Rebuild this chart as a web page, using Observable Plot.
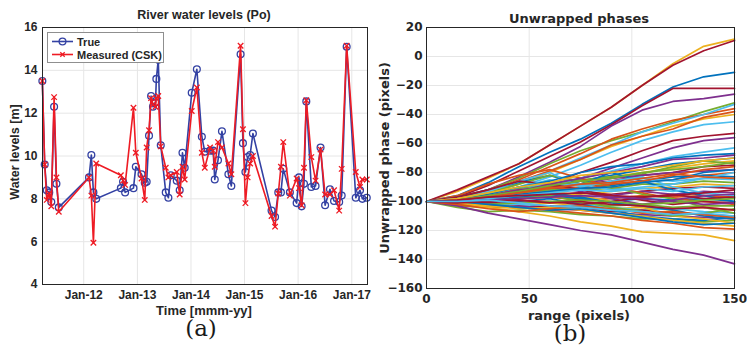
<!DOCTYPE html>
<html>
<head>
<meta charset="utf-8">
<script src="https://cdn.jsdelivr.net/npm/d3@7"></script>
<script src="https://cdn.jsdelivr.net/npm/@observablehq/plot@0.6"></script>
<style>
  body { margin: 0; background: #fff; }
  #wrap { position: relative; width: 747px; height: 347px; overflow: hidden; background: #fff; }
  .panel { position: absolute; top: 0; overflow: visible; }
  .txt { position: absolute; white-space: nowrap; color: #262626; font-weight: bold; transform: translate(-50%, -50%); }
  .lab { position: absolute; white-space: nowrap; color: #1a1a1a; font-family: "DejaVu Serif", serif; font-size: 23px; transform: translate(-50%, -50%); }
</style>
</head>
<body>
<div id="wrap"></div>
<script>
// ---- Panel (a): Po river water levels ----
const levelDates = [
  "2011-03-25","2011-04-10","2011-04-24","2011-05-11","2011-05-25","2011-06-13","2011-06-29","2011-07-15",
  "2012-02-06","2012-02-22","2012-03-07","2012-03-26","2012-09-10","2012-09-25","2012-10-09","2012-12-05",
  "2012-12-21","2013-01-29","2013-02-20","2013-03-05","2013-03-21","2013-04-04","2013-04-17","2013-05-04",
  "2013-05-10","2013-05-23","2013-06-09","2013-07-13","2013-07-31","2013-08-16","2013-09-26","2013-10-16",
  "2013-11-04","2013-11-19","2014-01-06","2014-02-10","2014-03-16","2014-04-05","2014-05-11","2014-06-01",
  "2014-06-12","2014-07-04","2014-07-31","2014-09-13","2014-10-03","2014-12-05","2014-12-21","2015-01-07",
  "2015-01-22","2015-02-08","2015-02-27","2015-07-04","2015-07-28","2015-08-19","2015-09-06","2015-09-22",
  "2015-11-06","2015-12-22","2016-01-07","2016-01-25","2016-02-10","2016-02-26","2016-03-31","2016-04-29",
  "2016-06-02","2016-07-03","2016-08-05","2016-09-02","2016-10-07","2016-10-24","2016-11-27","2017-01-28",
  "2017-02-26","2017-03-14","2017-04-13"
];
const trueLevel = [
  13.5, 9.6, 8.4, 8.3, 7.85, 12.3, 8.7, 7.6,
  9.0, 10.05, 8.3, 8.0, 8.5, 8.8, 8.3, 8.5,
  9.5, 9.15, 8.75, 8.8, 10.95, 12.8, 12.3, 12.5,
  13.6, 14.5, 10.5, 8.3, 8.05, 9.1, 8.85, 8.4,
  10.15, 9.45, 12.95, 14.05, 10.9, 10.2, 10.25, 10.25,
  8.9, 9.8, 11.15, 9.15, 8.6, 14.75, 10.6, 9.25,
  9.95, 10.05, 11.05, 7.45, 7.15, 8.3, 8.3, 9.4,
  8.3, 7.8, 9.0, 7.65, 8.7, 12.55, 8.55, 8.6,
  10.4, 7.7, 8.45, 7.9, 7.85, 8.15, 15.1, 8.05,
  8.4, 8.0, 8.05
];
const measuredLevel = [
  13.5, 9.6, 7.95, 8.25, 7.65, 12.75, 9.0, 7.4,
  9.0, 8.15, 5.95, 9.65, 9.1, 8.85, 8.65, 12.25,
  10.15, 8.95, 7.95, 10.4, 11.2, 12.7, 12.4, 12.3,
  12.7, 12.8, 10.45, 9.45, 9.0, 9.1, 9.25, 8.2,
  9.5, 8.9, 12.1, 13.2, 10.15, 9.45, 10.4, 10.25,
  9.5, 10.65, 10.4, 9.65, 9.15, 15.15, 11.25, 7.8,
  9.0, 9.65, 10.0, 7.2, 6.7, 8.25, 9.5, 10.65,
  8.15, 8.95, 8.5, 7.7, 9.45, 12.6, 9.95, 8.85,
  10.3, 8.2, 8.2, 8.4, 7.45, 9.4, 15.15, 9.25,
  8.55, 8.9, 8.9
];
const yearTicks = ["2012-01-01","2013-01-01","2014-01-01","2015-01-01","2016-01-01","2017-01-01"];
const levelTicks = [4, 6, 8, 10, 12, 14, 16];

// ---- Panel (b): unwrapped phase profiles along range ----
const phaseRange = [0, 15, 30, 45, 60, 75, 90, 105, 120, 135, 150];
const phaseRuns = [
  [-100,-93,-84,-74,-61,-48,-35,-20,-5,7,12],
  [-100,-92,-83,-74,-61,-48,-35,-20,-6,4,11],
  [-100,-96,-87,-76,-66,-57,-46,-33,-21,-14,-11],
  [-100,-97,-89,-79,-69,-59,-47,-34,-22,-22,-22],
  [-100,-99,-92,-83,-73,-62,-48,-37,-31,-29,-26],
  [-100,-98,-92,-84,-74,-65,-58,-52,-45,-38,-32],
  [-100,-99,-93,-85,-76,-67,-57,-50,-44,-40,-36],
  [-100,-98,-94,-87,-79,-70,-61,-52,-46,-40,-33],
  [-100,-100,-95,-88,-80,-71,-62,-55,-48,-43,-40],
  [-100,-99,-96,-90,-83,-75,-66,-58,-52,-47,-45],
  [-100,-97,-92,-86,-79,-71,-61,-55,-50,-42,-38],
  [-100,-100,-97,-93,-88,-80,-73,-65,-58,-55,-53],
  [-100,-101,-98,-95,-90,-84,-77,-70,-63,-58,-56],
  [-100,-99,-96,-92,-88,-84,-79,-74,-69,-66,-63],
  [-100,-98,-95,-93,-90,-86,-82,-78,-74,-72,-70],
  [-100,-100,-96,-90,-86,-86,-83,-80,-77,-74,-72],
  [-100,-97,-94,-91,-88,-85,-83,-81,-76,-72,-74],
  [-100,-99,-97,-93,-90,-88,-86,-82,-80,-76,-75],
  [-100,-101,-99,-96,-92,-88,-84,-82,-80,-79,-78],
  [-100,-98,-95,-92,-91,-90,-88,-86,-85,-82,-80],
  [-100,-100,-97,-95,-93,-91,-89,-86,-83,-82,-83],
  [-100,-99,-95,-90,-88,-89,-87,-84,-86,-84,-85],
  [-100,-99,-97,-94,-92,-92,-91,-88,-88,-86,-87],
  [-100,-102,-100,-97,-94,-95,-93,-91,-90,-88,-89],
  [-100,-100,-98,-96,-96,-94,-95,-93,-91,-90,-91],
  [-100,-99,-98,-97,-95,-97,-96,-93,-95,-93,-94],
  [-100,-101,-99,-98,-97,-99,-98,-96,-97,-96,-97],
  [-100,-100,-99,-97,-96,-98,-100,-98,-99,-98,-100],
  [-100,-103,-104,-101,-100,-101,-103,-102,-104,-103,-103],
  [-100,-102,-103,-103,-101,-103,-105,-104,-106,-104,-106],
  [-100,-101,-102,-102,-104,-102,-104,-106,-105,-107,-108],
  [-100,-101,-103,-104,-103,-104,-107,-106,-108,-109,-110],
  [-100,-102,-104,-103,-105,-106,-108,-109,-110,-111,-112],
  [-100,-104,-107,-106,-107,-109,-110,-112,-112,-114,-113],
  [-100,-101,-102,-100,-98,-102,-106,-110,-112,-113,-111],
  [-100,-102,-104,-104,-106,-108,-110,-113,-115,-118,-119],
  [-100,-101,-104,-107,-110,-114,-117,-121,-122,-123,-127],
  [-100,-103,-108,-112,-116,-120,-123,-128,-133,-137,-143],
  [-100,-96,-88,-82,-78,-84,-90,-94,-98,-100,-102],
  [-100,-97,-92,-87,-82,-88,-80,-86,-92,-96,-100],
  [-100,-98,-94,-88,-82,-86,-90,-95,-98,-104,-108],
  [-100,-99,-93,-86,-80,-90,-86,-83,-90,-94,-96],
  [-100,-97,-92,-86,-88,-92,-96,-99,-102,-100,-101],
  [-100,-99,-96,-92,-90,-93,-98,-102,-99,-96,-95],
  [-100,-99,-97,-95,-93,-96,-100,-104,-110,-112,-115],
  [-100,-101,-100,-98,-96,-100,-104,-107,-110,-108,-105],
  [-100,-100,-98,-96,-94,-97,-101,-103,-106,-110,-112],
  [-100,-98,-95,-90,-85,-88,-92,-90,-88,-84,-80],
  [-100,-101,-98,-94,-90,-92,-88,-86,-82,-78,-76],
  [-100,-100,-101,-99,-100,-102,-100,-97,-95,-98,-97],
  [-100,-99,-95,-90,-86,-80,-76,-74,-70,-68,-67],
  [-100,-100,-97,-93,-88,-84,-80,-76,-71,-70,-68],
  [-100,-98,-94,-90,-87,-82,-80,-78,-75,-72,-70],
  [-100,-99,-96,-93,-89,-86,-84,-80,-78,-76,-73],
  [-100,-101,-98,-95,-93,-91,-90,-87,-85,-80,-78],
  [-100,-99,-97,-94,-91,-88,-87,-84,-81,-83,-84],
  [-100,-100,-98,-96,-94,-92,-93,-91,-93,-90,-89],
  [-100,-99,-97,-96,-95,-94,-96,-97,-96,-94,-92],
  [-100,-100,-99,-98,-97,-96,-97,-98,-100,-102,-101],
  [-100,-101,-102,-101,-100,-99,-100,-102,-101,-99,-98],
  [-100,-101,-103,-105,-104,-106,-108,-110,-113,-115,-117],
  [-100,-100,-102,-104,-106,-105,-108,-111,-114,-116,-115],
  [-100,-102,-105,-107,-105,-103,-105,-108,-107,-109,-111],
  [-100,-101,-100,-99,-101,-100,-102,-103,-105,-104,-106],
  [-100,-100,-99,-101,-103,-104,-106,-107,-109,-108,-110]
];
const rangeTicks = [0, 50, 100, 150];
const phaseTicks = [-160, -140, -120, -100, -80, -60, -40, -20, 0, 20];

// line colours (MATLAB default colour order) and the colour used by each profile
const lineOrder = ["#0072BD", "#D95319", "#EDB120", "#7E2F8E", "#77AC30", "#4DBEEE", "#A2142F"];
const runColor = [
  2, 6, 0, 6, 3, 4, 1, 5, 2, 5, 1, 6, 3,
  5, 0, 2, 4, 6, 3, 1, 0, 5, 4, 2, 6, 3, 1, 0,
  4, 2, 5, 6, 3, 4, 0, 1, 2, 3,
  1, 0, 4, 5, 6, 3, 2, 4, 0, 5, 1, 6, 0, 3,
  2, 4, 0, 1, 5, 6, 3, 4, 2, 0, 1, 6, 5
];

const blue = "#3341a3";
const red = "#ee1b24";
const ink = "#262626";

const water = levelDates.map((d, i) => ({date: new Date(d), truth: trueLevel[i], measured: measuredLevel[i]}));
const phaseRows = phaseRuns.flatMap((run, i) => run.map((v, j) => ({range: phaseRange[j], phase: v, run: i, color: lineOrder[runColor[i]]})));

const wrap = document.getElementById("wrap");

const plotA = Plot.plot({
  width: 375, height: 347,
  marginLeft: 42, marginRight: 8, marginTop: 27, marginBottom: 63,
  style: {fontFamily: "'Liberation Sans', Arial, sans-serif", fontSize: "12px", fontWeight: "bold", color: ink, background: "transparent", overflow: "visible"},
  x: {type: "utc", domain: [new Date("2011-03-26"), new Date("2017-04-18")]},
  y: {domain: [4, 16]},
  marks: [
    Plot.gridX(yearTicks.map(d => new Date(d)), {stroke: "#e6e6e6", strokeOpacity: 1}),
    Plot.gridY(levelTicks, {stroke: "#e6e6e6", strokeOpacity: 1}),
    Plot.axisX({ticks: yearTicks.map(d => new Date(d)), tickFormat: d3.utcFormat("%b-%y"), tickSize: 0, tickPadding: 6, label: null, fill: ink}),
    Plot.axisY({ticks: levelTicks, tickSize: 0, tickPadding: 5, label: null, fill: ink}),
    Plot.line(water, {x: "date", y: "truth", stroke: blue, strokeWidth: 1.6}),
    Plot.dot(water, {x: "date", y: "truth", r: 3.4, stroke: blue, strokeWidth: 1.3, fill: "none"}),
    Plot.line(water, {x: "date", y: "measured", stroke: red, strokeWidth: 1.6}),
    Plot.dot(water, {x: "date", y: "measured", symbol: "times", r: 2.6, stroke: red, strokeWidth: 1.3}),
    Plot.frame({stroke: ink, strokeWidth: 1})
  ]
});
plotA.classList.add("panel");
plotA.style.left = "0px";
wrap.appendChild(plotA);

const plotB = Plot.plot({
  width: 372, height: 347,
  marginLeft: 51, marginRight: 13, marginTop: 27, marginBottom: 59,
  style: {fontFamily: "'DejaVu Sans', sans-serif", fontSize: "12px", fontWeight: "bold", color: ink, background: "transparent", overflow: "visible"},
  x: {domain: [0, 150]},
  y: {domain: [-160, 20]},
  color: {type: "identity"},
  marks: [
    Plot.gridX(rangeTicks, {stroke: "#e6e6e6", strokeOpacity: 1}),
    Plot.gridY(phaseTicks, {stroke: "#e6e6e6", strokeOpacity: 1}),
    Plot.axisX({ticks: rangeTicks, tickSize: 0, tickPadding: 6, label: null, fill: ink}),
    Plot.axisY({ticks: phaseTicks, tickSize: 0, tickPadding: 4, label: null, fill: ink}),
    Plot.line(phaseRows, {x: "range", y: "phase", z: "run", stroke: "color", strokeWidth: 1.7}),
    Plot.frame({stroke: ink, strokeWidth: 1})
  ]
});
plotB.classList.add("panel");
plotB.style.left = "375px";
wrap.appendChild(plotB);

// titles, axis labels and panel letters
function addText(cls, text, x, y, css) {
  const el = document.createElement("div");
  el.className = cls;
  el.textContent = text;
  el.style.left = x + "px";
  el.style.top = y + "px";
  Object.assign(el.style, css || {});
  wrap.appendChild(el);
  return el;
}
const sansA = {fontFamily: "'Liberation Sans', Arial, sans-serif"};
const sansB = {fontFamily: "'DejaVu Sans', sans-serif"};
addText("txt", "River water levels (Po)", 204, 15, {...sansA, fontSize: "12.5px"});
addText("txt", "Time [mmm-yy]", 204, 310, {...sansA, fontSize: "13px"});
addText("txt", "Water levels [m]", 15, 152, {...sansA, fontSize: "12.5px", transform: "translate(-50%, -50%) rotate(-90deg)"});
addText("lab", "(a)", 201, 328);
addText("txt", "Unwrapped phases", 579, 18, {...sansB, fontSize: "13px"});
addText("txt", "range (pixels)", 579, 315, {...sansB, fontSize: "13px"});
addText("txt", "Unwrapped phase (pixels)", 384, 158, {...sansB, fontSize: "13px", transform: "translate(-50%, -50%) rotate(-90deg)"});
addText("lab", "(b)", 570, 333);

// legend for panel (a)
const legend = document.createElement("div");
legend.style.cssText = "position:absolute;left:47px;top:32px;width:115px;height:29px;border:1px solid #8f8f8f;background:#fff;";
legend.innerHTML = `
<svg width="115" height="29" style="font-family:'Liberation Sans',Arial,sans-serif;font-size:11px;font-weight:bold">
  <line x1="4" x2="25" y1="8.5" y2="8.5" stroke="${blue}" stroke-width="1.6"/>
  <circle cx="14.5" cy="8.5" r="3.4" fill="none" stroke="${blue}" stroke-width="1.3"/>
  <text x="29" y="12.5" fill="${ink}">True</text>
  <line x1="4" x2="25" y1="21.5" y2="21.5" stroke="${red}" stroke-width="1.6"/>
  <path d="M12.3,19.3L16.7,23.7M16.7,19.3L12.3,23.7" stroke="${red}" stroke-width="1.3"/>
  <text x="29" y="25.5" fill="${ink}">Measured (CSK)</text>
</svg>`;
wrap.appendChild(legend);
</script>
</body>
</html>
